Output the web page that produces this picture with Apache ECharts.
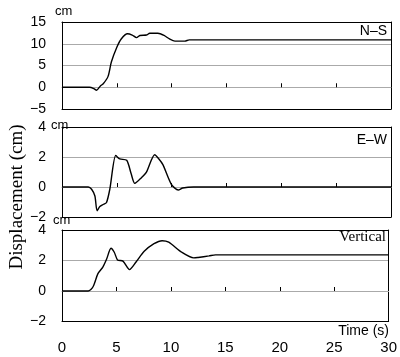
<!DOCTYPE html>
<html><head><meta charset="utf-8">
<script src="https://cdn.jsdelivr.net/npm/echarts@6/dist/echarts.min.js"></script>
<style>html,body{margin:0;padding:0;background:#fff}#c{width:400px;height:357px}</style>
</head><body><div id="c"></div>
<script>
// Time axis ticks (s)
const xTicks = [0, 5, 10, 15, 20, 25, 30];
// y tick ranges per panel
const nsTicks = [-5, 0, 5, 10, 15];
const ewTicks = [-2, 0, 2, 4];
const vtTicks = [-2, 0, 2, 4];
const panelNames = ['N–S', 'E–W', 'Vertical'];
const unitLabel = 'cm';

// N-S displacement (cm)
const nsTime = [0, 2.5, 2.9, 3.15, 3.5, 3.76, 4.2, 4.5, 5.0, 5.4, 5.97, 6.4, 6.8, 7.1, 7.7, 8.0, 8.75, 9.3, 9.8, 10.3, 11.2, 11.6, 12.5, 30];
const nsDisp = [0, 0, -0.3, -0.7, 0.3, 0.8, 2.5, 5.8, 9.2, 11.1, 12.3, 12.0, 11.4, 11.9, 12.0, 12.4, 12.4, 11.9, 11.1, 10.6, 10.6, 10.9, 10.9, 10.9];
// E-W displacement (cm)
const ewTime = [0, 2.4, 2.7, 3.0, 3.2, 3.45, 3.8, 4.06, 4.36, 4.9, 5.27, 5.9, 6.3, 6.64, 7.24, 7.7, 8.45, 8.8, 9.2, 9.97, 10.6, 11.0, 12, 30];
const ewDisp = [0, 0, -0.15, -0.6, -1.58, -1.3, -1.15, -1.03, -0.15, 2.1, 1.87, 1.78, 0.9, 0.24, 0.62, 0.99, 2.15, 1.9, 1.49, 0.18, -0.2, -0.07, 0, 0];
// Vertical displacement (cm)
const vtTime = [0, 2.4, 2.85, 3.3, 3.75, 4.1, 4.5, 4.8, 5.1, 5.6, 6.2, 6.8, 7.55, 8.45, 9.2, 9.8, 11.0, 12.1, 12.5, 13.5, 14.1, 30];
const vtDisp = [0, 0, 0.28, 1.14, 1.57, 2.1, 2.8, 2.54, 2.04, 1.96, 1.4, 1.9, 2.6, 3.1, 3.3, 3.2, 2.54, 2.17, 2.2, 2.3, 2.37, 2.37];

const zip = (t, v) => t.map((x, i) => [x, v[i]]);
const font = 'Liberation Sans, Arial, sans-serif';
const grids = [
  {left: 62, right: 9, top: 22, height: 87},
  {left: 62, right: 9, top: 127, height: 90},
  {left: 62, right: 9, top: 230, height: 91.5}
];
const yTickSets = [nsTicks, ewTicks, vtTicks];
const series = [zip(nsTime, nsDisp), zip(ewTime, ewDisp), zip(vtTime, vtDisp)];
const xMin = xTicks[0], xMax = xTicks[xTicks.length - 1], xInt = xTicks[1] - xTicks[0];
const black = {show: true, onZero: false, lineStyle: {color: '#000', width: 1}};

const xAxes = [], yAxes = [];
grids.forEach((g, i) => {
  const t = yTickSets[i];
  const yr = {min: t[0], max: t[t.length - 1], interval: t[1] - t[0]};
  // bottom frame + labels
  xAxes.push({type: 'value', gridIndex: i, position: 'bottom', min: xMin, max: xMax, interval: xInt,
    axisLine: black, axisTick: {show: false}, splitLine: {show: false},
    axisLabel: {show: i === 2, color: '#000', fontSize: 15, fontFamily: font, margin: 19}});
  // top frame
  xAxes.push({type: 'value', gridIndex: i, position: 'top', min: xMin, max: xMax, interval: xInt,
    axisLine: black, axisTick: {show: false}, splitLine: {show: false}, axisLabel: {show: false}});
  // zero line ticks
  xAxes.push({type: 'value', gridIndex: i, position: 'bottom', min: xMin, max: xMax, interval: xInt,
    axisLine: {show: true, onZero: true, onZeroAxisIndex: yAxes.length, lineStyle: {color: '#aaa', width: 1}},
    axisTick: {show: true, inside: true, length: 4, lineStyle: {color: '#000'}},
    splitLine: {show: false}, axisLabel: {show: false}});
  // left axis: labels, gridlines
  yAxes.push(Object.assign({type: 'value', gridIndex: i, position: 'left',
    axisLine: black, axisTick: {show: false},
    splitLine: {show: true, lineStyle: {color: '#aaa', width: 1}},
    axisLabel: {color: '#000', fontSize: 14, fontFamily: font, margin: 16,
      formatter: v => String(v).replace('-', '−')}
  }, yr));
  // right frame
  yAxes.push(Object.assign({type: 'value', gridIndex: i, position: 'right',
    axisLine: black, axisTick: {show: false}, splitLine: {show: false}, axisLabel: {show: false}}, yr));
});

const unitPos = [[55, 11.5], [51, 125], [53, 220]];
const option = {
  backgroundColor: '#fff',
  animation: false,
  grid: grids,
  xAxis: xAxes,
  yAxis: yAxes,
  series: series.map((d, i) => ({
    type: 'line', xAxisIndex: 3 * i, yAxisIndex: 2 * i, data: d, symbol: 'none', smooth: 0.25,
    lineStyle: {color: '#000', width: 1.4}, z: 5
  })),
  graphic: [
    {type: 'text', right: 13, top: 24.5, style: {text: panelNames[0], font: '14px Liberation Sans', fill: '#000'}},
    {type: 'text', right: 13, top: 133.5, style: {text: panelNames[1], font: '14px Liberation Sans', fill: '#000'}},
    {type: 'text', right: 14, top: 230, style: {text: panelNames[2], font: '15px Liberation Serif', fill: '#000'}},
    {type: 'text', right: 11, top: 324, style: {text: 'Time (s)', font: '14px Liberation Sans', fill: '#000'}},
    {type: 'text', x: 17.5, y: 197, rotation: Math.PI / 2,
      style: {text: 'Displacement (cm)', font: '19px Liberation Serif', fill: '#000', textAlign: 'center', textVerticalAlign: 'middle'}}
  ].concat(unitPos.map(p => ({type: 'text', x: p[0], y: p[1], z: 10,
    style: {text: unitLabel, font: '13px Liberation Sans', fill: '#000', textAlign: 'left', textVerticalAlign: 'middle'}})))
};
echarts.init(document.getElementById('c'), null, {renderer: 'canvas'}).setOption(option);
</script></body></html>
